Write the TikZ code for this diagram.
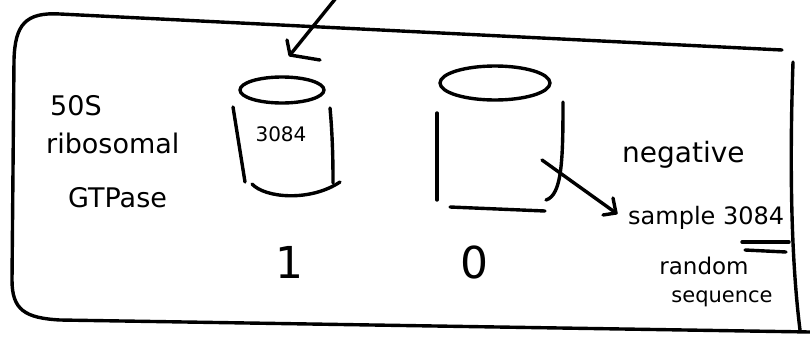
\documentclass[tikz,border=0pt]{standalone}
\usepackage{fontspec}
\setmainfont{DejaVu Sans}
\begin{document}
\begin{tikzpicture}[x=1pt,y=-1pt,
  pen/.style={line width=3.4pt,line cap=round,line join=round},
  lbl/.style={font=\fontsize{27}{29}\selectfont,inner sep=0pt},
  mid/.style={font=\fontsize{24}{26}\selectfont,inner sep=0pt},
  big/.style={font=\fontsize{44}{46}\selectfont,inner sep=0pt}]
\useasboundingbox (0,0) rectangle (810,343);
% outer frame
\draw[pen] (782,50) -- (60,14) .. controls (25,12) and (15,25) .. (14,60)
  -- (12,280) .. controls (12,310) and (25,318) .. (60,320) -- (810,332);
\draw[pen] (793,62) .. controls (790,150) and (790,250) .. (800,330);
% incoming arrow
\coordinate (ain) at (336,-2);
\coordinate (atip) at (290,55);
\draw[pen] (ain) -- (atip);
\draw[pen] (287,40) -- (atip) -- (320,60);
% cylinder 1
\node[font=\fontsize{20}{22}\selectfont,inner sep=0pt] (c1lab) at (281,134) {3084};
\draw[pen] (282,90) ellipse [x radius=42,y radius=13];
\draw[pen] (233,107) -- (245,182);
\draw[pen] (330,108) .. controls (333,140) and (333,170) .. (333,183);
\draw[pen] (252,184) .. controls (265,198) and (310,202) .. (340,182);
\node[big] (one) at (289,262) {1};
% cylinder 2
\draw[pen] (495,83) ellipse [x radius=55,y radius=17];
\draw[pen] (437,113) -- (437,200);
\draw[pen] (563,102) .. controls (563,160) and (562,195) .. (546,200);
\draw[pen] (450,207) -- (545,211);
\node[big] (zero) at (474,262) {0};
% left text
\node[lbl,anchor=west] (t1) at (50,106) {50S};
\node[lbl,anchor=west] (t2) at (46,143) {ribosomal};
\node[lbl,anchor=west] (t3) at (68,198) {GTPase};
% negative arrow
\coordinate (nstart) at (542,160);
\coordinate (ntip) at (616,213);
\draw[pen] (nstart) -- (ntip);
\draw[pen] (603,215) -- (ntip) -- (613,198);
\node[font=\fontsize{28}{30}\selectfont,inner sep=0pt,anchor=west] (neg) at (622,155) {negative};
\node[mid,anchor=west] (samp) at (628,218) {sample 3084};
\node[font=\fontsize{23}{25}\selectfont,inner sep=0pt] (rand) at (704,266) {random};
\node[font=\fontsize{21}{23}\selectfont,inner sep=0pt] (seq) at (722,299) {sequence};
\draw[pen] (742,242) -- (789,242);
\draw[pen] (745,250) -- (786,252);
\end{tikzpicture}
\end{document}
